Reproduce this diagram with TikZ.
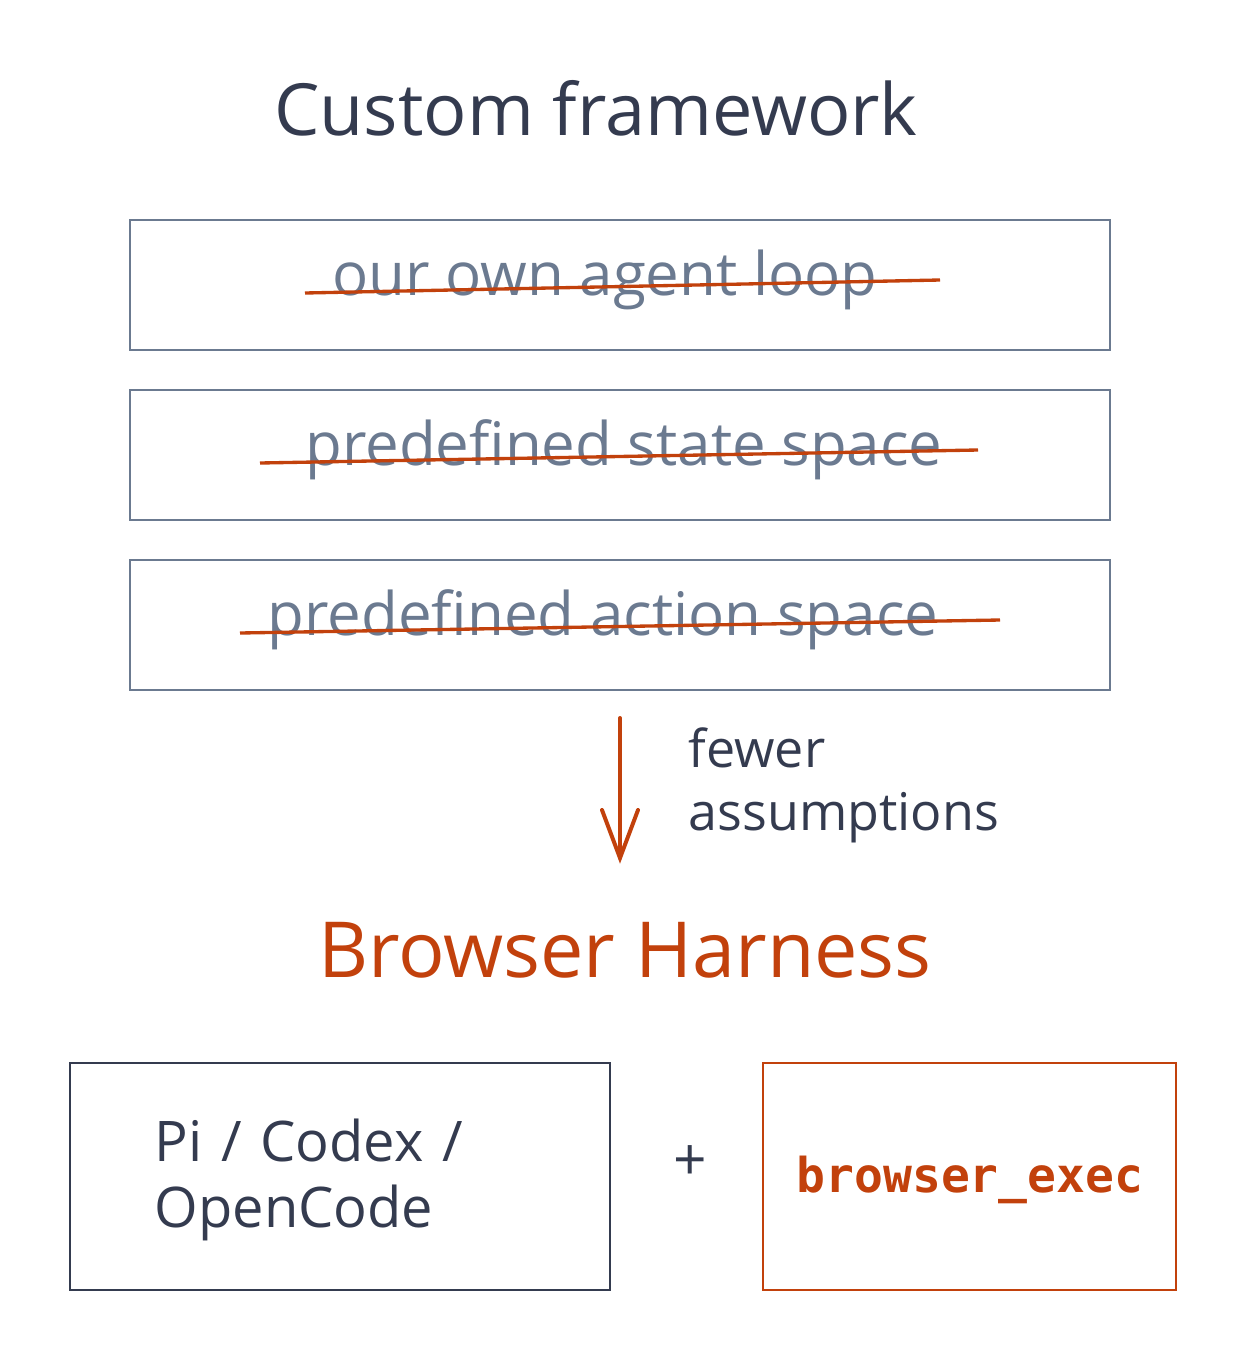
\documentclass[tikz,border=0pt]{standalone}
\usepackage{fontspec}
\setmainfont{Open Sans}
\setmonofont{DejaVu Sans Mono}
\definecolor{ink}{HTML}{343B4F}
\definecolor{grayb}{HTML}{6B7A90}
\definecolor{orng}{HTML}{C2410C}
\begin{document}
\begin{tikzpicture}[x=0.75pt,y=-0.75pt,
  box/.style={draw=grayb,line width=2pt},
  strike/.style={draw=orng,line width=2.5pt},
  gtext/.style={text=grayb,font=\fontsize{45}{50}\selectfont},
  dtext/.style={text=ink,font=\fontsize{39}{46}\selectfont}]
\useasboundingbox (0,0) rectangle (1240,1360);
\node[text=ink,font=\fontsize{54}{60}\selectfont] (title) at (596,108) {Custom framework};
\draw[box] (130,220) rectangle (1110,350);
\node[gtext] (t1) at (605,280) {our own agent loop};
\coordinate (s1a) at (305,293); \coordinate (s1b) at (940,280);
\draw[strike] (s1a) -- (s1b);
\draw[box] (130,390) rectangle (1110,520);
\node[gtext] (t2) at (624,450) {predefined state space};
\coordinate (s2a) at (260,463); \coordinate (s2b) at (978,450);
\draw[strike] (s2a) -- (s2b);
\draw[box] (130,560) rectangle (1110,690);
\node[gtext] (t3) at (603,620) {predefined action space};
\coordinate (s3a) at (240,633); \coordinate (s3b) at (1000,620);
\draw[strike] (s3a) -- (s3b);
\coordinate (a1) at (620,718); \coordinate (a2) at (620,858);
\draw[orng,line width=3pt,line cap=round] (a1) -- (a2);
\draw[orng,line width=3pt,line cap=round] (602,810) -- (a2) -- (638,810);
\node[dtext,anchor=west] (few) at (684,748) {fewer};
\node[dtext,anchor=west] (ass) at (684,818) {assumptions};
\node[text=orng,font=\fontsize{58}{66}\selectfont] (bh) at (625,950) {Browser Harness};
\draw[draw=ink,line width=2pt] (70,1063) rectangle (610,1290);
\node[text=ink,font=\fontsize{42}{48}\selectfont,anchor=west] (pi) at (150,1140) {Pi\,\,/\,\,Codex\,\,/};
\node[text=ink,font=\fontsize{42}{48}\selectfont,anchor=west] (oc) at (150,1213) {OpenCode};
\node[text=ink,font=\fontsize{44}{48}\selectfont] (plus) at (690,1163) {+};
\draw[draw=orng,line width=2pt] (763,1063) rectangle (1176,1290);
\node[text=orng,font=\ttfamily\bfseries\fontsize{36}{40}\selectfont] (be) at (970,1180) {browser\_exec};
\end{tikzpicture}
\end{document}
